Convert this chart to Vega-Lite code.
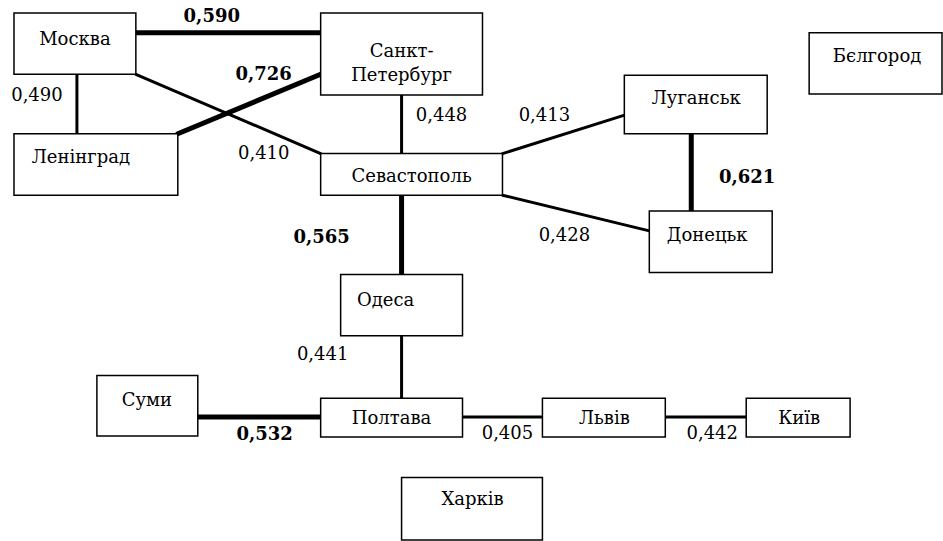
{
  "$schema": "https://vega.github.io/schema/vega-lite/v6.json",
  "width": 943,
  "height": 541,
  "padding": 0,
  "autosize": {"type": "fit", "contains": "padding"},
  "background": "white",
  "config": {"view": {"stroke": null}},
  "datasets": {
    "nodes": [
      {"name": "Москва", "x1": 14, "x2": 136, "y1": 13, "y2": 75, "tx": 75, "ty": 40},
      {"name": "Санкт-\nПетербург", "x1": 321, "x2": 483, "y1": 13, "y2": 96, "tx": 402, "ty": 52},
      {"name": "Ленінград", "x1": 14, "x2": 178, "y1": 135, "y2": 197, "tx": 81, "ty": 159},
      {"name": "Севастополь", "x1": 321, "x2": 503, "y1": 155, "y2": 197, "tx": 412, "ty": 179},
      {"name": "Луганськ", "x1": 625, "x2": 768, "y1": 76, "y2": 135, "tx": 697, "ty": 100},
      {"name": "Бєлгород", "x1": 810, "x2": 943, "y1": 33, "y2": 95, "tx": 878, "ty": 58},
      {"name": "Донецьк", "x1": 650, "x2": 773, "y1": 213, "y2": 275, "tx": 708, "ty": 238},
      {"name": "Одеса", "x1": 341, "x2": 463, "y1": 277, "y2": 339, "tx": 386, "ty": 304},
      {"name": "Суми", "x1": 97, "x2": 198, "y1": 379, "y2": 440, "tx": 147, "ty": 405},
      {"name": "Полтава", "x1": 321, "x2": 463, "y1": 402, "y2": 441, "tx": 392, "ty": 423},
      {"name": "Львів", "x1": 543, "x2": 666, "y1": 402, "y2": 441, "tx": 605, "ty": 423},
      {"name": "Київ", "x1": 747, "x2": 851, "y1": 402, "y2": 441, "tx": 800, "ty": 423},
      {"name": "Харків", "x1": 402, "x2": 543, "y1": 482, "y2": 545, "tx": 473, "ty": 505}
    ],
    "edges": [
      {"pair": "Москва–Санкт-Петербург", "x1": 136, "y1": 33, "x2": 321, "y2": 33, "w": "strong", "v": "0,590", "lx": 212, "ly": 17},
      {"pair": "Москва–Ленінград", "x1": 77, "y1": 75, "x2": 77, "y2": 135, "w": "normal", "v": "0,490", "lx": 37, "ly": 97},
      {"pair": "Ленінград–Санкт-Петербург", "x1": 178, "y1": 135, "x2": 321, "y2": 75, "w": "strong", "v": "0,726", "lx": 264, "ly": 76},
      {"pair": "Москва–Севастополь", "x1": 136, "y1": 75, "x2": 321, "y2": 155, "w": "normal", "v": "0,410", "lx": 264, "ly": 155},
      {"pair": "Санкт-Петербург–Севастополь", "x1": 402, "y1": 96, "x2": 402, "y2": 155, "w": "normal", "v": "0,448", "lx": 442, "ly": 117},
      {"pair": "Севастополь–Луганськ", "x1": 503, "y1": 155, "x2": 626, "y2": 116, "w": "normal", "v": "0,413", "lx": 545, "ly": 117},
      {"pair": "Севастополь–Донецьк", "x1": 503, "y1": 197, "x2": 650, "y2": 233, "w": "normal", "v": "0,428", "lx": 565, "ly": 238},
      {"pair": "Луганськ–Донецьк", "x1": 692, "y1": 135, "x2": 692, "y2": 213, "w": "strong", "v": "0,621", "lx": 748, "ly": 180},
      {"pair": "Севастополь–Одеса", "x1": 402, "y1": 197, "x2": 402, "y2": 277, "w": "strong", "v": "0,565", "lx": 322, "ly": 240},
      {"pair": "Одеса–Полтава", "x1": 402, "y1": 339, "x2": 402, "y2": 402, "w": "normal", "v": "0,441", "lx": 323, "ly": 358},
      {"pair": "Суми–Полтава", "x1": 198, "y1": 421, "x2": 321, "y2": 421, "w": "strong", "v": "0,532", "lx": 265, "ly": 439},
      {"pair": "Полтава–Львів", "x1": 463, "y1": 421, "x2": 543, "y2": 421, "w": "normal", "v": "0,405", "lx": 508, "ly": 438},
      {"pair": "Львів–Київ", "x1": 666, "y1": 421, "x2": 747, "y2": 421, "w": "normal", "v": "0,442", "lx": 713, "ly": 438}
    ]
  },
  "layer": [
    {
      "data": {"name": "edges"},
      "mark": {"type": "rule", "color": "black", "strokeCap": "round"},
      "encoding": {
        "x": {"field": "x1", "type": "quantitative", "scale": {"domain": [0, 943], "nice": false, "zero": false}, "axis": null},
        "y": {"field": "y1", "type": "quantitative", "scale": {"domain": [0, 541], "nice": false, "zero": false, "reverse": true}, "axis": null},
        "x2": {"field": "x2"},
        "y2": {"field": "y2"},
        "strokeWidth": {"field": "w", "type": "ordinal", "scale": {"domain": ["strong", "normal"], "range": [5, 3]}, "legend": null}
      }
    },
    {
      "data": {"name": "nodes"},
      "mark": {"type": "rect", "fill": "white", "stroke": "black", "strokeWidth": 1.5},
      "encoding": {
        "x": {"field": "x1", "type": "quantitative"},
        "x2": {"field": "x2"},
        "y": {"field": "y1", "type": "quantitative"},
        "y2": {"field": "y2"}
      }
    },
    {
      "data": {"name": "nodes"},
      "mark": {"type": "text", "font": "DejaVu Serif", "fontSize": 18, "color": "black", "align": "center", "baseline": "middle", "lineBreak": "\n", "lineHeight": 24},
      "encoding": {
        "x": {"field": "tx", "type": "quantitative"},
        "y": {"field": "ty", "type": "quantitative"},
        "text": {"field": "name"}
      }
    },
    {
      "data": {"name": "edges"},
      "transform": [{"filter": "datum.w === 'normal'"}],
      "mark": {"type": "text", "font": "DejaVu Serif", "fontSize": 18, "color": "black", "align": "center", "baseline": "middle"},
      "encoding": {
        "x": {"field": "lx", "type": "quantitative"},
        "y": {"field": "ly", "type": "quantitative"},
        "text": {"field": "v"}
      }
    },
    {
      "data": {"name": "edges"},
      "transform": [{"filter": "datum.w === 'strong'"}],
      "mark": {"type": "text", "font": "DejaVu Serif", "fontSize": 18, "fontWeight": "bold", "color": "black", "align": "center", "baseline": "middle"},
      "encoding": {
        "x": {"field": "lx", "type": "quantitative"},
        "y": {"field": "ly", "type": "quantitative"},
        "text": {"field": "v"}
      }
    }
  ]
}
